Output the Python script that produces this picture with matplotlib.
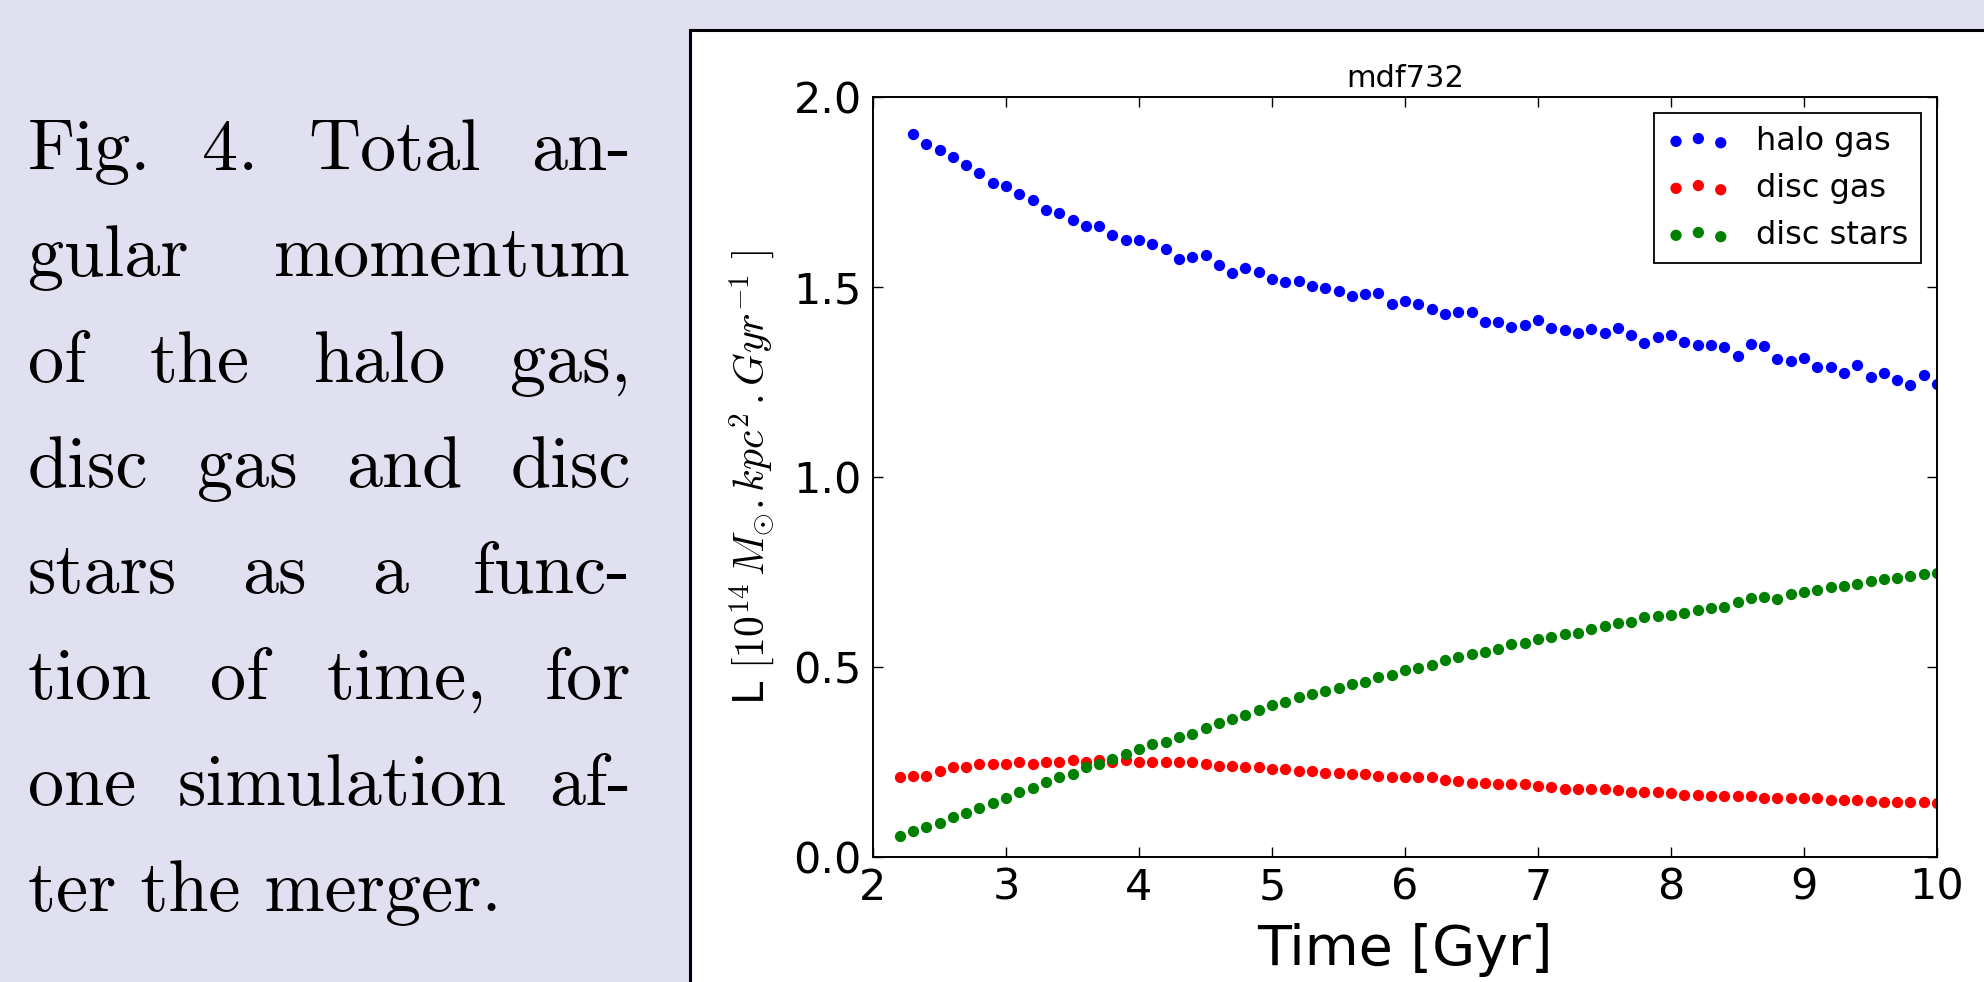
import matplotlib
matplotlib.use("Agg")
import matplotlib.pyplot as plt
from matplotlib.patches import Rectangle

plt.rcParams['mathtext.fontset'] = 'cm'

# time of each snapshot [Gyr]
time_disc = [2.2, 2.3, 2.4, 2.5, 2.6, 2.7, 2.8, 2.9,
             3.0, 3.1, 3.2, 3.3, 3.4, 3.5, 3.6, 3.7, 3.8, 3.9,
             4.0, 4.1, 4.2, 4.3, 4.4, 4.5, 4.6, 4.7, 4.8, 4.9,
             5.0, 5.1, 5.2, 5.3, 5.4, 5.5, 5.6, 5.7, 5.8, 5.9,
             6.0, 6.1, 6.2, 6.3, 6.4, 6.5, 6.6, 6.7, 6.8, 6.9,
             7.0, 7.1, 7.2, 7.3, 7.4, 7.5, 7.6, 7.7, 7.8, 7.9,
             8.0, 8.1, 8.2, 8.3, 8.4, 8.5, 8.6, 8.7, 8.8, 8.9,
             9.0, 9.1, 9.2, 9.3, 9.4, 9.5, 9.6, 9.7, 9.8, 9.9,
             10.0]
time_halo = time_disc[1:]

halo_gas = [1.903, 1.877, 1.861, 1.843, 1.822, 1.801, 1.775,
            1.766, 1.744, 1.729, 1.703, 1.694, 1.676, 1.661, 1.661, 1.638, 1.625,
            1.625, 1.613, 1.600, 1.575, 1.580, 1.584, 1.559, 1.536, 1.551, 1.540,
            1.520, 1.514, 1.516, 1.503, 1.498, 1.489, 1.476, 1.481, 1.485, 1.455,
            1.464, 1.455, 1.442, 1.429, 1.435, 1.434, 1.408, 1.408, 1.396, 1.401,
            1.413, 1.391, 1.387, 1.378, 1.389, 1.378, 1.391, 1.375, 1.352, 1.369,
            1.374, 1.356, 1.347, 1.347, 1.341, 1.318, 1.349, 1.345, 1.310, 1.305,
            1.312, 1.290, 1.290, 1.273, 1.295, 1.264, 1.273, 1.255, 1.242, 1.268,
            1.245]

disc_gas = [0.211, 0.214, 0.213, 0.227, 0.236, 0.236, 0.245, 0.245,
            0.245, 0.249, 0.245, 0.249, 0.249, 0.254, 0.251, 0.255, 0.251, 0.254,
            0.249, 0.249, 0.249, 0.249, 0.249, 0.245, 0.240, 0.240, 0.236, 0.236,
            0.231, 0.231, 0.227, 0.227, 0.222, 0.222, 0.218, 0.218, 0.213, 0.210,
            0.211, 0.211, 0.211, 0.203, 0.201, 0.196, 0.196, 0.192, 0.192, 0.192,
            0.187, 0.183, 0.179, 0.179, 0.179, 0.178, 0.176, 0.172, 0.172, 0.172,
            0.168, 0.163, 0.163, 0.161, 0.161, 0.161, 0.161, 0.156, 0.156, 0.156,
            0.156, 0.154, 0.150, 0.150, 0.150, 0.148, 0.146, 0.146, 0.146, 0.146,
            0.141]

disc_stars = [0.056, 0.069, 0.080, 0.090, 0.104, 0.117, 0.130, 0.143,
              0.154, 0.172, 0.181, 0.198, 0.210, 0.218, 0.236, 0.245, 0.258, 0.271,
              0.283, 0.297, 0.303, 0.317, 0.325, 0.339, 0.352, 0.362, 0.374, 0.387,
              0.400, 0.409, 0.420, 0.429, 0.438, 0.446, 0.455, 0.461, 0.475, 0.479,
              0.492, 0.497, 0.505, 0.518, 0.527, 0.534, 0.539, 0.547, 0.561, 0.564,
              0.573, 0.578, 0.586, 0.590, 0.599, 0.608, 0.615, 0.619, 0.631, 0.634,
              0.637, 0.641, 0.650, 0.654, 0.659, 0.672, 0.681, 0.685, 0.678, 0.691,
              0.698, 0.703, 0.710, 0.713, 0.718, 0.727, 0.732, 0.735, 0.739, 0.744,
              0.748]

caption = ["Fig. 4. Total an-",
           "gular momentum",
           "of the halo gas,",
           "disc gas and disc",
           "stars as a func-",
           "tion of time, for",
           "one simulation af-",
           "ter the merger."]

W, H = 1984, 982
fig = plt.figure(figsize=(W / 100, H / 100), dpi=100, facecolor='#e0e0f0')

# white panel with black frame behind the plot
frame = Rectangle((689.5 / W, -0.1), 1.2, 1.1 - 29.5 / H, transform=fig.transFigure,
                  facecolor='white', edgecolor='black', linewidth=2.2, zorder=0)
fig.add_artist(frame)

ax = fig.add_axes([873 / W, 1 - 857 / H, (1937 - 873) / W, (857 - 97) / H])
ax.scatter(time_halo, halo_gas, s=66, c='blue', linewidths=0, label='halo gas')
ax.scatter(time_disc, disc_gas, s=66, c='red', linewidths=0, label='disc gas')
ax.scatter(time_disc, disc_stars, s=66, c='green', linewidths=0, label='disc stars')

ax.set_xlim(2, 10)
ax.set_ylim(0, 2)
ax.set_xticks([2, 3, 4, 5, 6, 7, 8, 9, 10])
ax.set_yticks([0.0, 0.5, 1.0, 1.5, 2.0])
ax.set_yticklabels(['0.0', '0.5', '1.0', '1.5', '2.0'])
ax.tick_params(direction='in', top=True, right=True, length=7, width=1, labelsize=31)
ax.tick_params(axis='x', pad=7)
ax.tick_params(axis='y', pad=8)
for sp in ax.spines.values():
    sp.set_linewidth(1.4)

ax.set_title('mdf732', fontsize=22, pad=7)
ax.set_xlabel('Time [Gyr]', fontsize=40, labelpad=10)
ax.set_ylabel(r'L $[10^{14}\,M_{\odot}.kpc^2\,.Gyr^{-1}\ ]$', fontsize=30, labelpad=12)

leg = ax.legend(loc='upper right', fontsize=23, scatterpoints=3, fancybox=False,
                framealpha=1, edgecolor='black')
leg.get_frame().set_linewidth(1.3)

# justified caption on the left
fig.canvas.draw()
rend = fig.canvas.get_renderer()
x_left, x_right = 28, 631
for i, line in enumerate(caption):
    y = 1 - (170 + 105.8 * i) / H
    if i == len(caption) - 1:
        fig.text(x_left / W, y, line, family='cmr10', fontsize=52, va='baseline')
        continue
    words = line.split(' ')
    texts = [fig.text(0, y, w, family='cmr10', fontsize=52, va='baseline') for w in words]
    widths = [t.get_window_extent(renderer=rend).width for t in texts]
    gap = (x_right - x_left - sum(widths)) / (len(words) - 1)
    x = x_left
    for t, w in zip(texts, widths):
        t.set_x(x / W)
        x += w + gap

fig.savefig('out.png', dpi=100, facecolor=fig.get_facecolor())
